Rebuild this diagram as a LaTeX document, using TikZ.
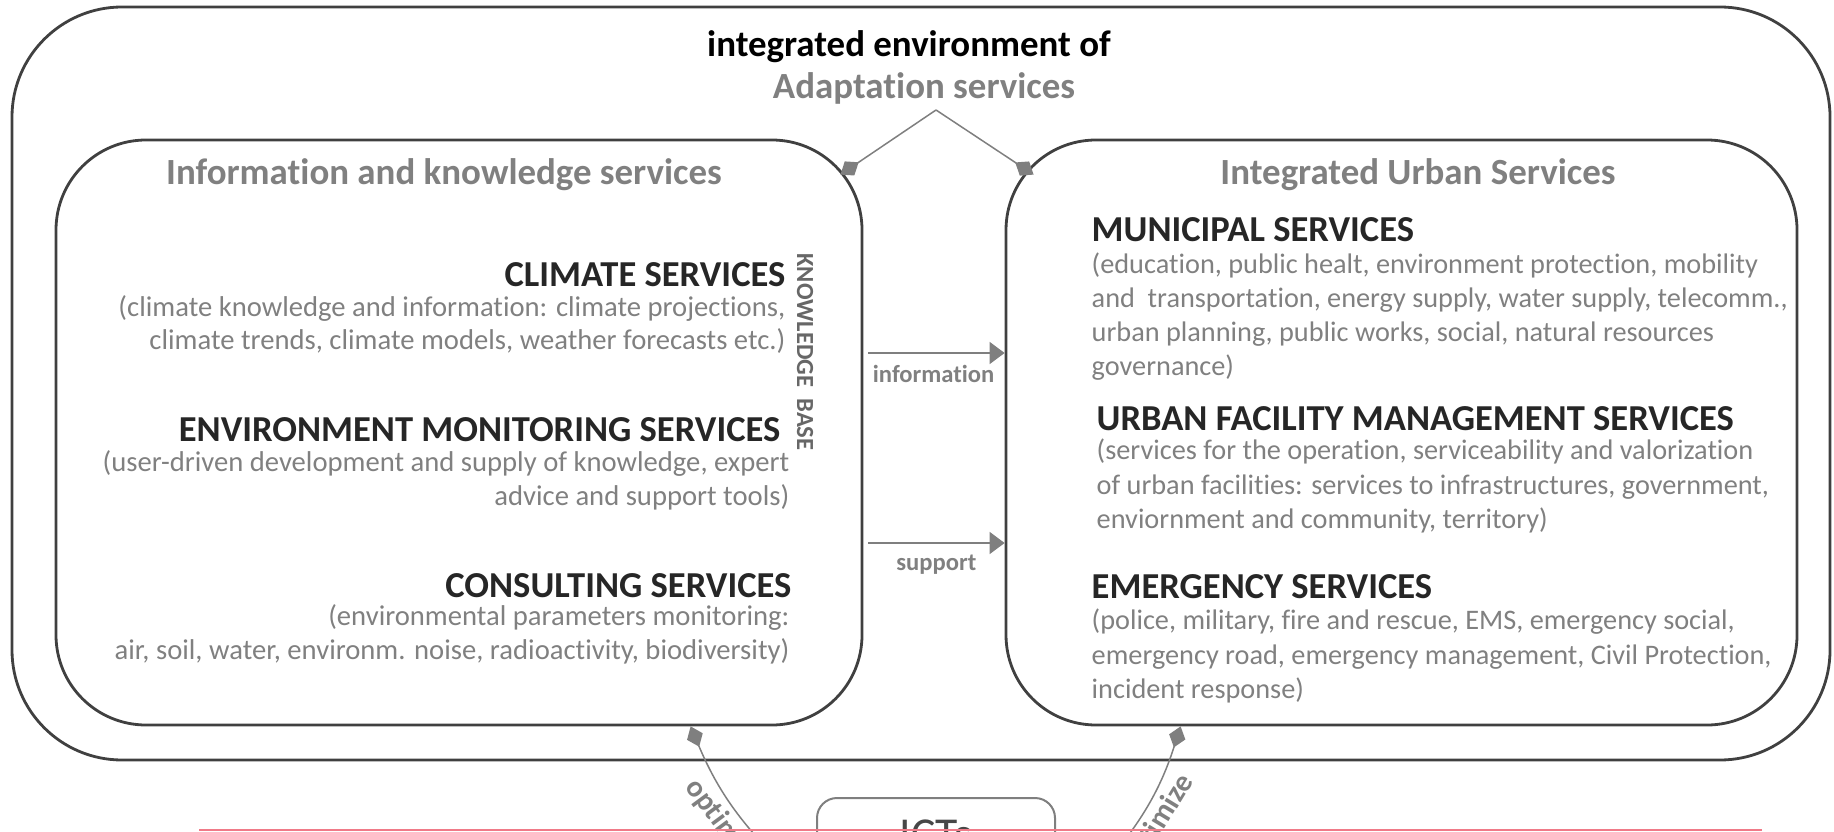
\documentclass[tikz,border=0pt]{standalone}
\usepackage{fontspec}
\setmainfont{Carlito}[Ligatures=NoCommon]
\usetikzlibrary{arrows.meta,positioning,calc}

\definecolor{ink}{HTML}{262626}
\definecolor{txtgray}{HTML}{808080}
\definecolor{boxline}{HTML}{404040}
\definecolor{arrgray}{HTML}{7F7F7F}
\definecolor{cutpink}{HTML}{F07A88}

\begin{document}
\begin{tikzpicture}[
  box/.style={draw=boxline,line width=0.28mm,rounded corners=0.9cm,inner sep=0pt},
  ictbox/.style={draw=arrgray,line width=0.2mm,rounded corners=0.2cm,inner sep=0pt},
  hd/.style={font=\bfseries\fontsize{10.4}{12}\selectfont,text=ink,inner sep=0pt},
  desc/.style={font=\fontsize{8.15}{9.5}\selectfont,text=txtgray,inner sep=0pt},
  ttl/.style={font=\bfseries\fontsize{10.5}{12}\selectfont,text=txtgray,inner sep=0pt},
  lbl/.style={font=\bfseries\fontsize{7}{8}\selectfont,text=txtgray},
  optlbl/.style={font=\bfseries\fontsize{8.5}{9}\selectfont,text=txtgray,inner sep=1.5pt},
  flow/.style={draw=arrgray,line width=0.15mm,-{Triangle[length=1.5mm,width=2.2mm]}},
  link/.style={draw=arrgray,line width=0.15mm,-{Diamond[length=2.2mm,width=1.7mm]}}]
  \useasboundingbox (0,0) rectangle (18.34,8.31);
  \clip (0,0) rectangle (18.34,8.31);

  % frames
  \node[box,rounded corners=1.1cm,minimum width=18.18cm,minimum height=7.53cm] (env) at (9.21,4.475) {};
  \node[box,minimum width=8.06cm,minimum height=5.85cm] (info) at (4.59,3.985) {};
  \node[box,minimum width=7.91cm,minimum height=5.85cm] (urban) at (14.015,3.985) {};
  \node[ictbox,minimum width=2.38cm,minimum height=0.74cm] (ict) at (9.36,-0.04) {};
  \node[font=\fontsize{13}{14}\selectfont,text=ink!85] (ictlbl) at (ict.center) {ICTs};

  % titles
  \node[ttl,text=black] (envttl) at (9.09,7.84) {integrated environment of};
  \node[ttl] (adapt) at (9.24,7.43) {Adaptation services};
  \node[ttl] (infottl) at (4.44,6.56) {Information and knowledge services};
  \node[ttl] (urbttl) at (14.18,6.56) {Integrated Urban Services};

  % information and knowledge services
  \node[hd,anchor=east] (clim) at (7.86,5.56) {CLIMATE SERVICES};
  \node[desc,anchor=east,align=right] (climtxt) at (7.86,5.065)
  {(climate knowledge and information: climate projections,\\ climate trends, climate models, weather forecasts etc.)};
  \node[hd,anchor=east] (envmon) at (7.81,4.01) {ENVIRONMENT MONITORING SERVICES};
  \node[desc,anchor=east,align=right] (envmontxt) at (7.90,3.505)
  {(user-driven development and supply of knowledge, expert\\ advice and support tools)};
  \node[hd,anchor=east] (consult) at (7.92,2.45) {CONSULTING SERVICES};
  \node[desc,anchor=east,align=right] (consulttxt) at (7.90,1.965)
  {(environmental parameters monitoring:\\ air, soil, water, environm. noise, radioactivity, biodiversity)};
  \node[font=\bfseries\fontsize{7}{8}\selectfont,text=ink!70,rotate=-90] (kbase) at (8.05,4.79) {KNOWLEDGE~ BASE};

  % integrated urban services
  \node[hd,anchor=west] (munic) at (10.91,6.01) {MUNICIPAL SERVICES};
  \node[desc,anchor=west,align=left,font=\fontsize{8.05}{9.7}\selectfont] (munictxt) at (10.91,5.145)
  {(education, public healt, environment protection, mobility\\ and\hspace{0.45em}transportation, energy supply, water supply, telecomm.,\\
   urban planning, public works, social, natural resources\\ governance)};
  \node[hd,anchor=west] (ufm) at (10.96,4.12) {URBAN FACILITY MANAGEMENT SERVICES};
  \node[desc,anchor=west,align=left,font=\fontsize{8.05}{9.7}\selectfont] (ufmtxt) at (10.96,3.45)
  {(services for the operation, serviceability and valorization\\ of urban facilities: services to infrastructures, government,\\
   enviornment and community, territory)};
  \node[hd,anchor=west] (emerg) at (10.91,2.44) {EMERGENCY SERVICES};
  \node[desc,anchor=west,align=left,font=\fontsize{8.05}{9.7}\selectfont] (emergtxt) at (10.91,1.75)
  {(police, military, fire and rescue, EMS, emergency social,\\ emergency road, emergency management, Civil Protection,\\
   incident response)};

  % connectors
  \coordinate (apex) at (9.36,7.21);
  \coordinate (infoC) at ($(info.north east)+(-0.23,-0.36)$);
  \coordinate (urbC) at ($(urban.north west)+(0.29,-0.36)$);
  \draw[link] (apex) -- (infoC);
  \draw[link] (apex) -- (urbC);

  \coordinate (infoA) at (8.68,4.78);
  \coordinate (suppA) at (8.68,2.88);
  \draw[flow] (infoA) -- node[lbl,below,pos=0.48]{information} (infoA -| urban.west);
  \draw[flow] (suppA) -- node[lbl,below,pos=0.5]{support} (suppA -| urban.west);

  \coordinate (optL) at (7.95,-0.45);
  \coordinate (optR) at (10.95,-0.45);
  \coordinate (infoB) at ($(info.south west)+(6.36,0)$);
  \coordinate (urbB) at ($(urban.south west)+(1.76,0)$);
  \draw[link] (optL) to[bend left=12] node[optlbl,sloped,below,pos=0.45]{optimize} (infoB);
  \draw[link] (optR) to[bend right=12] node[optlbl,sloped,below,pos=0.45]{optimize} (urbB);

  \coordinate (cutL) at (1.99,0.008);
  \coordinate (cutR) at (17.62,0.008);
  \draw[cutpink,line width=0.18mm] (cutL) -- (cutR);
\end{tikzpicture}
\end{document}
